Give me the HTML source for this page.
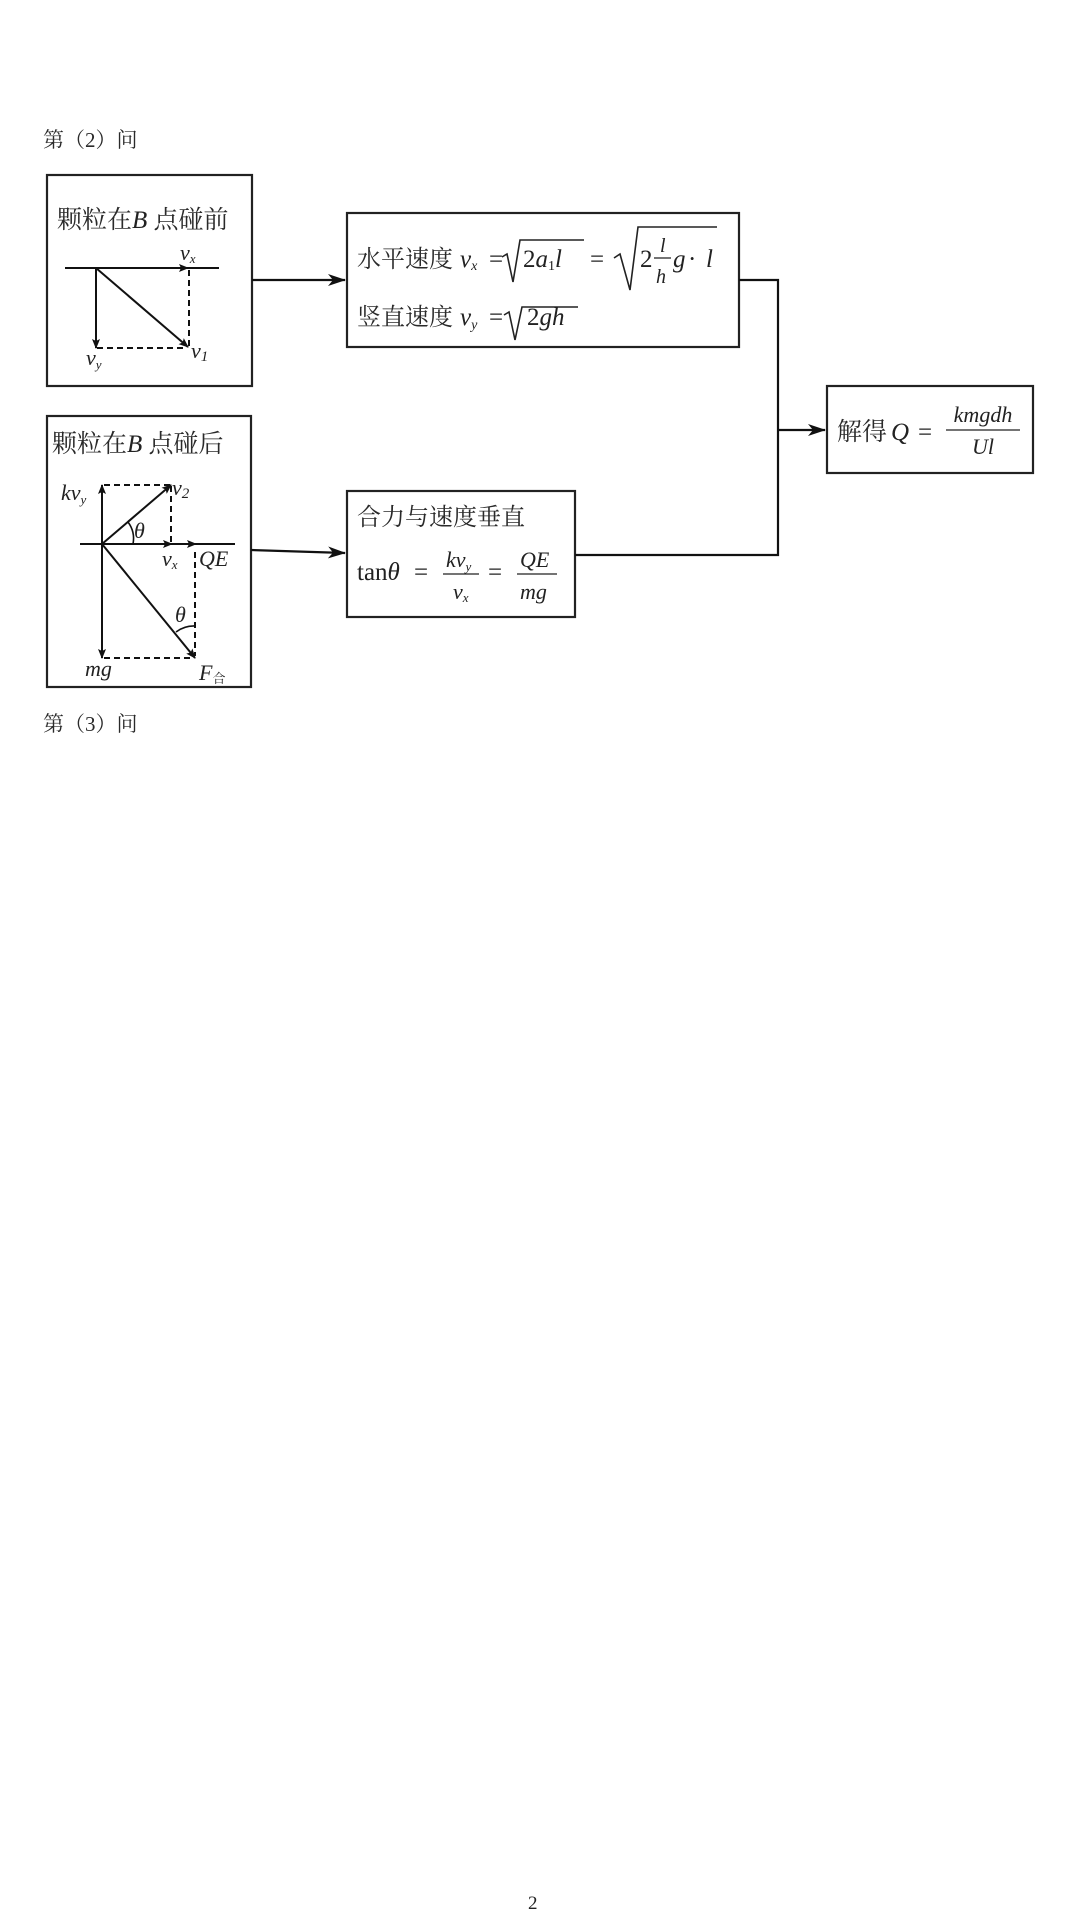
<!DOCTYPE html>
<html><head><meta charset="utf-8"><style>
html,body{margin:0;padding:0;background:#fff;}
svg{display:block;}
.cj{font-family:"Liberation Serif","Noto Serif CJK SC","Noto Sans CJK SC",serif;fill:#2a2a2a;}
.m{font-family:"Liberation Serif","DejaVu Serif",serif;font-style:italic;fill:#222;}
.r{font-family:"Liberation Serif","DejaVu Serif",serif;fill:#222;}
</style></head><body>
<svg width="1080" height="1914" viewBox="0 0 1080 1914" xmlns="http://www.w3.org/2000/svg">
<defs>
<marker id="ah" markerWidth="12" markerHeight="10" refX="11" refY="5" orient="auto" markerUnits="userSpaceOnUse">
<path d="M0,0 L12,5 L0,10 L3,5 Z" fill="#111"/></marker>
<marker id="as" markerWidth="10" markerHeight="8" refX="9" refY="4" orient="auto" markerUnits="userSpaceOnUse">
<path d="M0,0 L10,4 L0,8 L2,4 Z" fill="#111"/></marker>
<marker id="ab" markerWidth="18" markerHeight="12" refX="17" refY="6" orient="auto" markerUnits="userSpaceOnUse">
<path d="M0,0 L18,6 L0,12 L5,6 Z" fill="#111"/></marker>
</defs>

<text x="43" y="147" class="cj" font-size="21">第（2）问</text>
<text x="43" y="731" class="cj" font-size="21">第（3）问</text>
<text x="528" y="1909" class="r" font-size="19">2</text>

<g fill="none" stroke="#222" stroke-width="2.2">
<rect x="47" y="175" width="205" height="211"/>
<rect x="347" y="213" width="392" height="134"/>
<rect x="47" y="416" width="204" height="271"/>
<rect x="347" y="491" width="228" height="126"/>
<rect x="827" y="386" width="206" height="87"/>
</g>

<g stroke="#111" stroke-width="2.2" fill="none">
<line x1="252" y1="280" x2="345" y2="280" marker-end="url(#ab)"/>
<line x1="251" y1="550" x2="345" y2="553" marker-end="url(#ab)"/>
<polyline points="739,280 778,280 778,555 575,555"/>
<line x1="778" y1="430" x2="825" y2="430" marker-end="url(#ab)"/>
</g>

<text x="57" y="228" class="cj" font-size="25">颗粒在<tspan class="m">B</tspan> 点碰前</text>
<g stroke="#111" stroke-width="2" fill="none">
<line x1="65" y1="268" x2="219" y2="268"/>
<line x1="96" y1="268" x2="188" y2="268" marker-end="url(#as)"/>
<line x1="96" y1="268" x2="96" y2="348" marker-end="url(#as)"/>
<line x1="96" y1="268" x2="188" y2="347" marker-end="url(#as)"/>
<line x1="189" y1="270" x2="189" y2="346" stroke-dasharray="6,4"/>
<line x1="97" y1="348" x2="186" y2="348" stroke-dasharray="6,4"/>
</g>
<text x="180" y="260" class="m" font-size="22">v<tspan font-size="13" dy="3">x</tspan></text>
<text x="86" y="365" class="m" font-size="22">v<tspan font-size="13" dy="4">y</tspan></text>
<text x="191" y="358" class="m" font-size="22">v<tspan class="r" font-size="15" dy="3">1</tspan></text>

<text x="52" y="452" class="cj" font-size="25">颗粒在<tspan class="m">B</tspan> 点碰后</text>
<g stroke="#111" stroke-width="2" fill="none">
<line x1="80" y1="544" x2="235" y2="544"/>
<line x1="102" y1="544" x2="196" y2="544" marker-end="url(#as)"/>
<line x1="102" y1="544" x2="172" y2="544" marker-end="url(#as)"/>
<line x1="102" y1="544" x2="102" y2="485" marker-end="url(#as)"/>
<line x1="102" y1="544" x2="102" y2="658" marker-end="url(#as)"/>
<line x1="102" y1="544" x2="171" y2="485" marker-end="url(#as)"/>
<line x1="102" y1="544" x2="195" y2="658" marker-end="url(#as)"/>
<line x1="104" y1="485" x2="170" y2="485" stroke-dasharray="6,4"/>
<line x1="171" y1="486" x2="171" y2="542" stroke-dasharray="6,4"/>
<line x1="195" y1="552" x2="195" y2="656" stroke-dasharray="6,4"/>
<line x1="104" y1="658" x2="193" y2="658" stroke-dasharray="6,4"/>
<path d="M128,522 A28,28 0 0 1 133,544" stroke-width="1.6"/>
<path d="M176,632 A30,30 0 0 1 195,626" stroke-width="1.6"/>
</g>
<text x="61" y="500" class="m" font-size="22">kv<tspan font-size="13" dy="4">y</tspan></text>
<text x="172" y="495" class="m" font-size="22">v<tspan class="r" font-size="15" dy="3">2</tspan></text>
<text x="134" y="538" class="m" font-size="22">θ</text>
<text x="162" y="566" class="m" font-size="22">v<tspan font-size="13" dy="3">x</tspan></text>
<text x="199" y="566" class="m" font-size="22">QE</text>
<text x="175" y="622" class="m" font-size="22">θ</text>
<text x="85" y="676" class="m" font-size="22">mg</text>
<text x="199" y="680" class="m" font-size="22">F<tspan class="cj" font-style="normal" font-size="13" dy="3">合</tspan></text>

<text x="357" y="267" class="cj" font-size="24">水平速度</text>
<text x="460" y="267" class="m" font-size="25">v<tspan font-size="14" dy="3">x</tspan></text>
<text x="489" y="267" class="r" font-size="25">=</text>
<path d="M502,257 L507,254 L513,282 L520,240 L584,240" fill="none" stroke="#222" stroke-width="1.6"/>
<text x="523" y="267" class="r" font-size="25">2<tspan class="m">a</tspan><tspan font-size="14" dy="3">1</tspan><tspan class="m" dy="-3">l</tspan></text>
<text x="590" y="267" class="r" font-size="25">=</text>
<path d="M614,258 L620,254 L630,290 L638,227 L717,227" fill="none" stroke="#222" stroke-width="1.6"/>
<text x="640" y="267" class="r" font-size="25">2</text>
<text x="660" y="252" class="m" font-size="20">l</text>
<line x1="654" y1="258" x2="671" y2="258" stroke="#222" stroke-width="1.3"/>
<text x="656" y="283" class="m" font-size="20">h</text>
<text x="673" y="267" class="m" font-size="25">g</text>
<text x="688" y="267" class="r" font-size="25">·</text>
<text x="706" y="267" class="m" font-size="25">l</text>

<text x="357" y="325" class="cj" font-size="24">竖直速度</text>
<text x="460" y="325" class="m" font-size="25">v<tspan font-size="14" dy="4">y</tspan></text>
<text x="489" y="325" class="r" font-size="25">=</text>
<path d="M504,315 L509,312 L515,340 L522,307 L578,307" fill="none" stroke="#222" stroke-width="1.6"/>
<text x="527" y="325" class="r" font-size="25">2<tspan class="m">gh</tspan></text>

<text x="357" y="525" class="cj" font-size="24">合力与速度垂直</text>
<text x="357" y="580" class="r" font-size="25">tan<tspan class="m">θ</tspan></text>
<text x="414" y="580" class="r" font-size="25">=</text>
<text x="446" y="567" class="m" font-size="22">kv<tspan font-size="13" dy="4">y</tspan></text>
<line x1="443" y1="574" x2="479" y2="574" stroke="#222" stroke-width="1.3"/>
<text x="453" y="599" class="m" font-size="22">v<tspan font-size="13" dy="3">x</tspan></text>
<text x="488" y="580" class="r" font-size="25">=</text>
<text x="520" y="567" class="m" font-size="22">QE</text>
<line x1="517" y1="574" x2="557" y2="574" stroke="#222" stroke-width="1.3"/>
<text x="520" y="599" class="m" font-size="22">mg</text>

<text x="837" y="440" class="cj" font-size="25">解得</text>
<text x="891" y="440" class="m" font-size="25">Q</text>
<text x="918" y="440" class="r" font-size="25">=</text>
<text x="983" y="422" class="m" font-size="22" text-anchor="middle">kmgdh</text>
<line x1="946" y1="430" x2="1020" y2="430" stroke="#222" stroke-width="1.3"/>
<text x="983" y="454" class="m" font-size="22" text-anchor="middle">Ul</text>
</svg>
</body></html>
